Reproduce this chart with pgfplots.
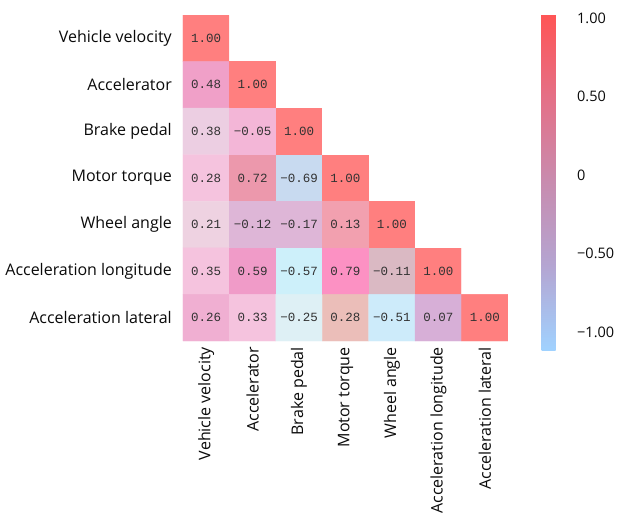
\documentclass[border=0pt]{standalone}
\usepackage{pgfplots}
\pgfplotsset{compat=1.18}
\usepackage{fontspec}
\setmainfont{Open Sans}
\newfontfamily\cellfont{Liberation Mono}
\definecolor{celltext}{RGB}{50,50,50}
\definecolor{labeltext}{RGB}{10,10,10}
\begin{document}
\begin{tikzpicture}
\begin{axis}[
  name=main,
  scale only axis, width=325bp, height=326bp,
  xmin=-0.5, xmax=6.5, ymin=-0.5, ymax=6.5, y dir=reverse,
  axis line style={draw=none}, major tick length=0pt,
  xtick={0,...,6}, ytick={0,...,6},
  xticklabels={Vehicle velocity, Accelerator, Brake pedal, Motor torque, Wheel angle, Acceleration longitude, Acceleration lateral},
  yticklabels={Vehicle velocity, Accelerator, Brake pedal, Motor torque, Wheel angle, Acceleration longitude, Acceleration lateral},
  x tick label style={yshift=-6bp, rotate=90, anchor=east, inner sep=0pt, font=\fontsize{16bp}{19bp}\selectfont, text=labeltext},
  y tick label style={anchor=east, inner sep=0pt, xshift=-11bp, font=\fontsize{16bp}{19bp}\selectfont, text=labeltext},
  colormap={corr}{rgb255=(160,210,255) rgb255=(180,165,210) rgb255=(200,140,175) rgb255=(228,112,135) rgb255=(255,85,85)},
  point meta min=-1.115, point meta max=1.025,
  colorbar,
  colorbar style={
    at={(main.north east)}, anchor=north west, xshift=25bp, yshift=1bp,
    scale only axis, width=26.5bp, height=336bp,
    axis line style={draw=none}, major tick length=0pt,
    ytick={-1,-0.5,0,0.5,1},
    yticklabels={−1.00,−0.50,0,0.50,1.00},
    yticklabel style={anchor=west, inner sep=0pt, xshift=9bp, font=\fontsize{14.5bp}{18bp}\selectfont, text=labeltext},
    /pgf/number format/assume math mode=true,
  },
]
\addplot[matrix plot*, mesh/cols=7, mesh/color input=explicit, point meta=explicit symbolic] table[meta=c] {
x y c
0 0 rgb255=255,127,127
1 0 rgb255=255,255,255
2 0 rgb255=255,255,255
3 0 rgb255=255,255,255
4 0 rgb255=255,255,255
5 0 rgb255=255,255,255
6 0 rgb255=255,255,255
0 1 rgb255=240,160,200
1 1 rgb255=255,127,127
2 1 rgb255=255,255,255
3 1 rgb255=255,255,255
4 1 rgb255=255,255,255
5 1 rgb255=255,255,255
6 1 rgb255=255,255,255
0 2 rgb255=236,206,226
1 2 rgb255=243,182,215
2 2 rgb255=255,127,127
3 2 rgb255=255,255,255
4 2 rgb255=255,255,255
5 2 rgb255=255,255,255
6 2 rgb255=255,255,255
0 3 rgb255=245,195,222
1 3 rgb255=236,152,172
2 3 rgb255=200,218,240
3 3 rgb255=255,127,127
4 3 rgb255=255,255,255
5 3 rgb255=255,255,255
6 3 rgb255=255,255,255
0 4 rgb255=238,210,225
1 4 rgb255=222,182,215
2 4 rgb255=222,182,215
3 4 rgb255=242,160,175
4 4 rgb255=255,127,127
5 4 rgb255=255,255,255
6 4 rgb255=255,255,255
0 5 rgb255=245,195,222
1 5 rgb255=240,155,200
2 5 rgb255=205,240,250
3 5 rgb255=252,145,195
4 5 rgb255=218,185,195
5 5 rgb255=255,127,127
6 5 rgb255=255,255,255
0 6 rgb255=240,175,210
1 6 rgb255=245,195,222
2 6 rgb255=222,240,245
3 6 rgb255=235,190,185
4 6 rgb255=205,235,250
5 6 rgb255=215,175,215
6 6 rgb255=255,127,127
};
\addplot[only marks, mark=none, point meta=explicit symbolic, nodes near coords,
  nodes near coords align={anchor=center},
  every node near coord/.append style={anchor=center, inner sep=0pt, text=celltext, font=\cellfont\fontsize{12.5bp}{14bp}\selectfont}]
  table[meta=t] {
x y t
0 0 1.00
0 1 0.48
1 1 1.00
0 2 0.38
1 2 −0.05
2 2 1.00
0 3 0.28
1 3 0.72
2 3 −0.69
3 3 1.00
0 4 0.21
1 4 −0.12
2 4 −0.17
3 4 0.13
4 4 1.00
0 5 0.35
1 5 0.59
2 5 −0.57
3 5 0.79
4 5 −0.11
5 5 1.00
0 6 0.26
1 6 0.33
2 6 −0.25
3 6 0.28
4 6 −0.51
5 6 0.07
6 6 1.00
};
\end{axis}
\pgfresetboundingbox
\path[use as bounding box] (main.south west) ++(-183bp,-177bp) rectangle ++(618bp,518bp);
\end{tikzpicture}
\end{document}
